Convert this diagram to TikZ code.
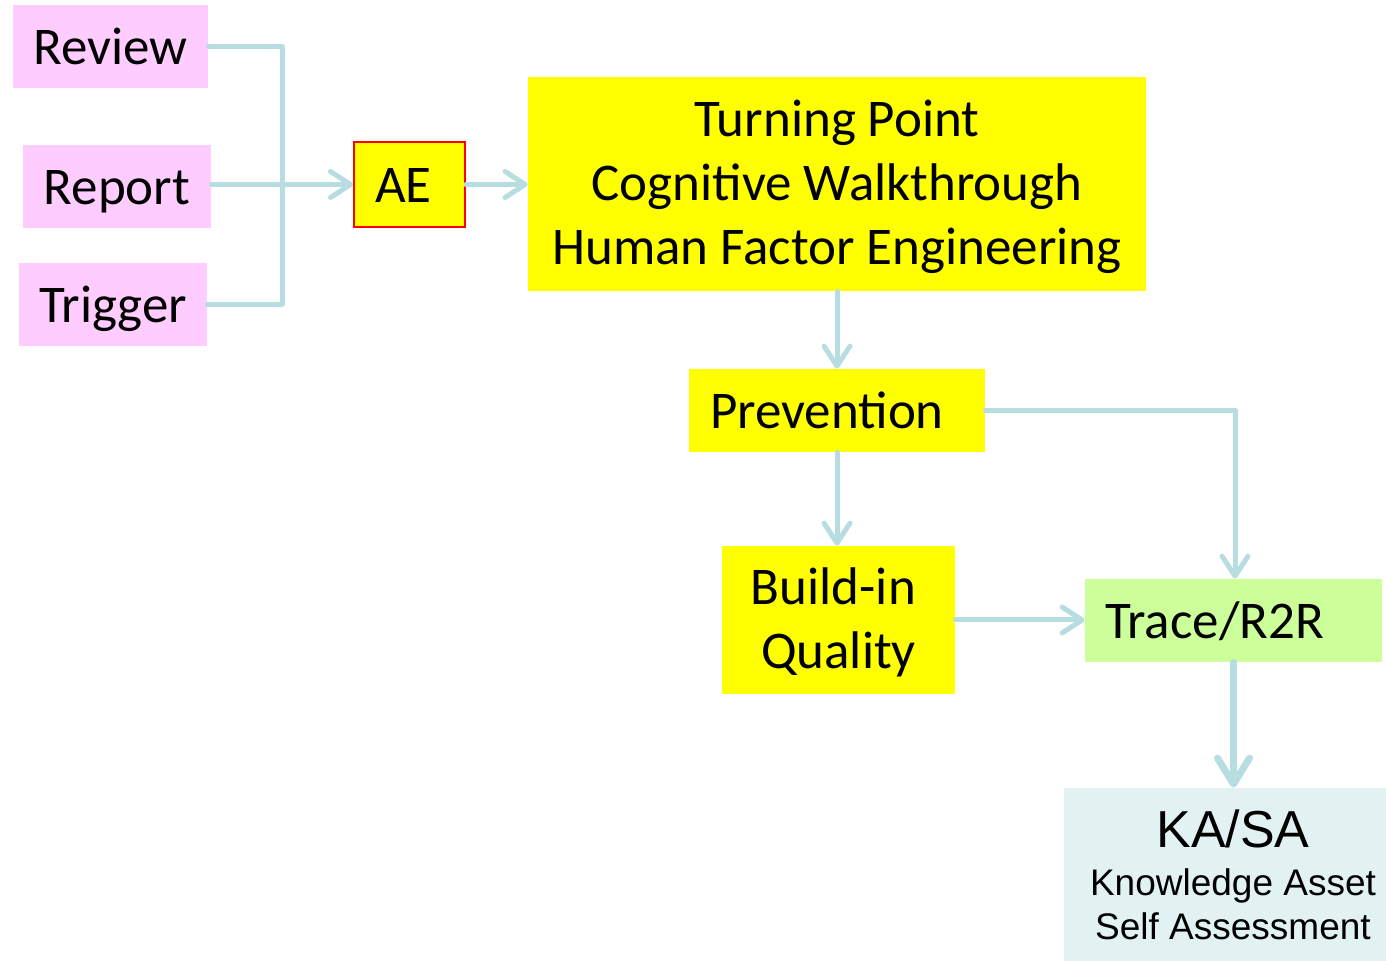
\documentclass[tikz,border=0pt]{standalone}
\usepackage{fontspec}
\setmainfont{Carlito}
\newfontfamily\arialfont{Liberation Sans}
\usetikzlibrary{arrows.meta}

\definecolor{pinkbox}{HTML}{FFCCFF}
\definecolor{yellowbox}{HTML}{FFFF00}
\definecolor{greenbox}{HTML}{CCFF99}
\definecolor{kabox}{HTML}{E2F2F3}
\definecolor{linkblue}{HTML}{B7DDE0}

% strut that sets the first line of a multi-line box a little lower
\newcommand{\toppad}{\rule{0pt}{21pt}}

\tikzset{
  box/.style={inner sep=0pt, font=\fontsize{26.5}{32}\selectfont, align=center},
  oneline/.style={text height=20.5pt, text depth=2.5pt},
  pinkstep/.style={box, oneline, fill=pinkbox, minimum height=41.5pt},
  yellowstep/.style={box, fill=yellowbox},
  conn/.style={draw=linkblue, line width=2.5pt, line cap=round, line join=round},
  arr/.style={conn, -{Straight Barb[length=10pt, width=13pt, round]}},
  bigarr/.style={conn, line width=3.5pt, -{Straight Barb[length=13pt, width=16pt, round]}},
}

\begin{document}
\begin{tikzpicture}[x=0.5pt, y=-0.5pt]
  \useasboundingbox (0,0) rectangle (1386,961);

  % input sources
  \node[pinkstep, minimum width=97.5pt] (review)  at (110.5,46.5) {Review};
  \node[pinkstep, minimum width=94pt]   (report)  at (117,186.5)  {Report};
  \node[pinkstep, minimum width=94pt]   (trigger) at (113,304.5)  {Trigger};

  % adverse event
  \node[yellowstep, oneline, draw=red, line width=1pt, minimum width=55.5pt, minimum height=42.5pt]
        (ae) at (409.5,184.5) {\hspace*{-6pt}AE};

  % analysis methods
  \node[yellowstep, minimum width=309pt, minimum height=107pt]
        (tp) at (837,184) {\toppad Turning Point\\Cognitive Walkthrough\\Human Factor Engineering};

  \node[yellowstep, oneline, minimum width=148pt, minimum height=41.5pt, text width=127pt,
        align=left, inner xsep=10.5pt] (prev) at (837,410.5) {Prevention};

  \node[yellowstep, minimum width=116.5pt, minimum height=74pt]
        (build) at (838.5,620) {\toppad\hspace*{-5pt}Build-in\\Quality};

  \node[box, oneline, fill=greenbox, minimum width=148.5pt, minimum height=41.5pt, text width=128.5pt,
        align=left, inner xsep=10pt] (trace) at (1233.5,620.5) {Trace/R2R};

  \node[fill=kabox, inner sep=0pt, minimum width=161pt, minimum height=86.5pt, font=\arialfont]
        (ka) at (1225,874.5)
        {\parbox{161pt}{\centering
           \fontsize{26}{26}\selectfont\hspace*{8pt}KA/SA\par
           \vspace{2pt}
           \fontsize{18.5}{22}\selectfont\hspace*{8pt}Knowledge Asset\\
           \hspace*{8pt}Self Assessment\par}};

  % bus joining the three sources
  \coordinate (busx) at (282,0);
  \draw[conn] (review.east) -- (review.east -| busx) -- (trigger.east -| busx) -- (trigger.east);

  % flow
  \draw[arr] (report.east |- ae.west) -- (ae.west);
  \draw[arr] (ae.east) -- (ae.east -| tp.west);
  \draw[arr] (tp.south) -- (prev.north);
  \draw[arr] (prev.south) -- (prev.south |- build.north);
  \coordinate (tracein) at (1235,579);
  \draw[arr] (prev.east) -- (prev.east -| tracein) -- (trace.north -| tracein);
  \draw[arr] (build.east) -- (build.east -| trace.west);
  \draw[bigarr] (trace.south) -- (trace.south |- ka.north);
\end{tikzpicture}
\end{document}
